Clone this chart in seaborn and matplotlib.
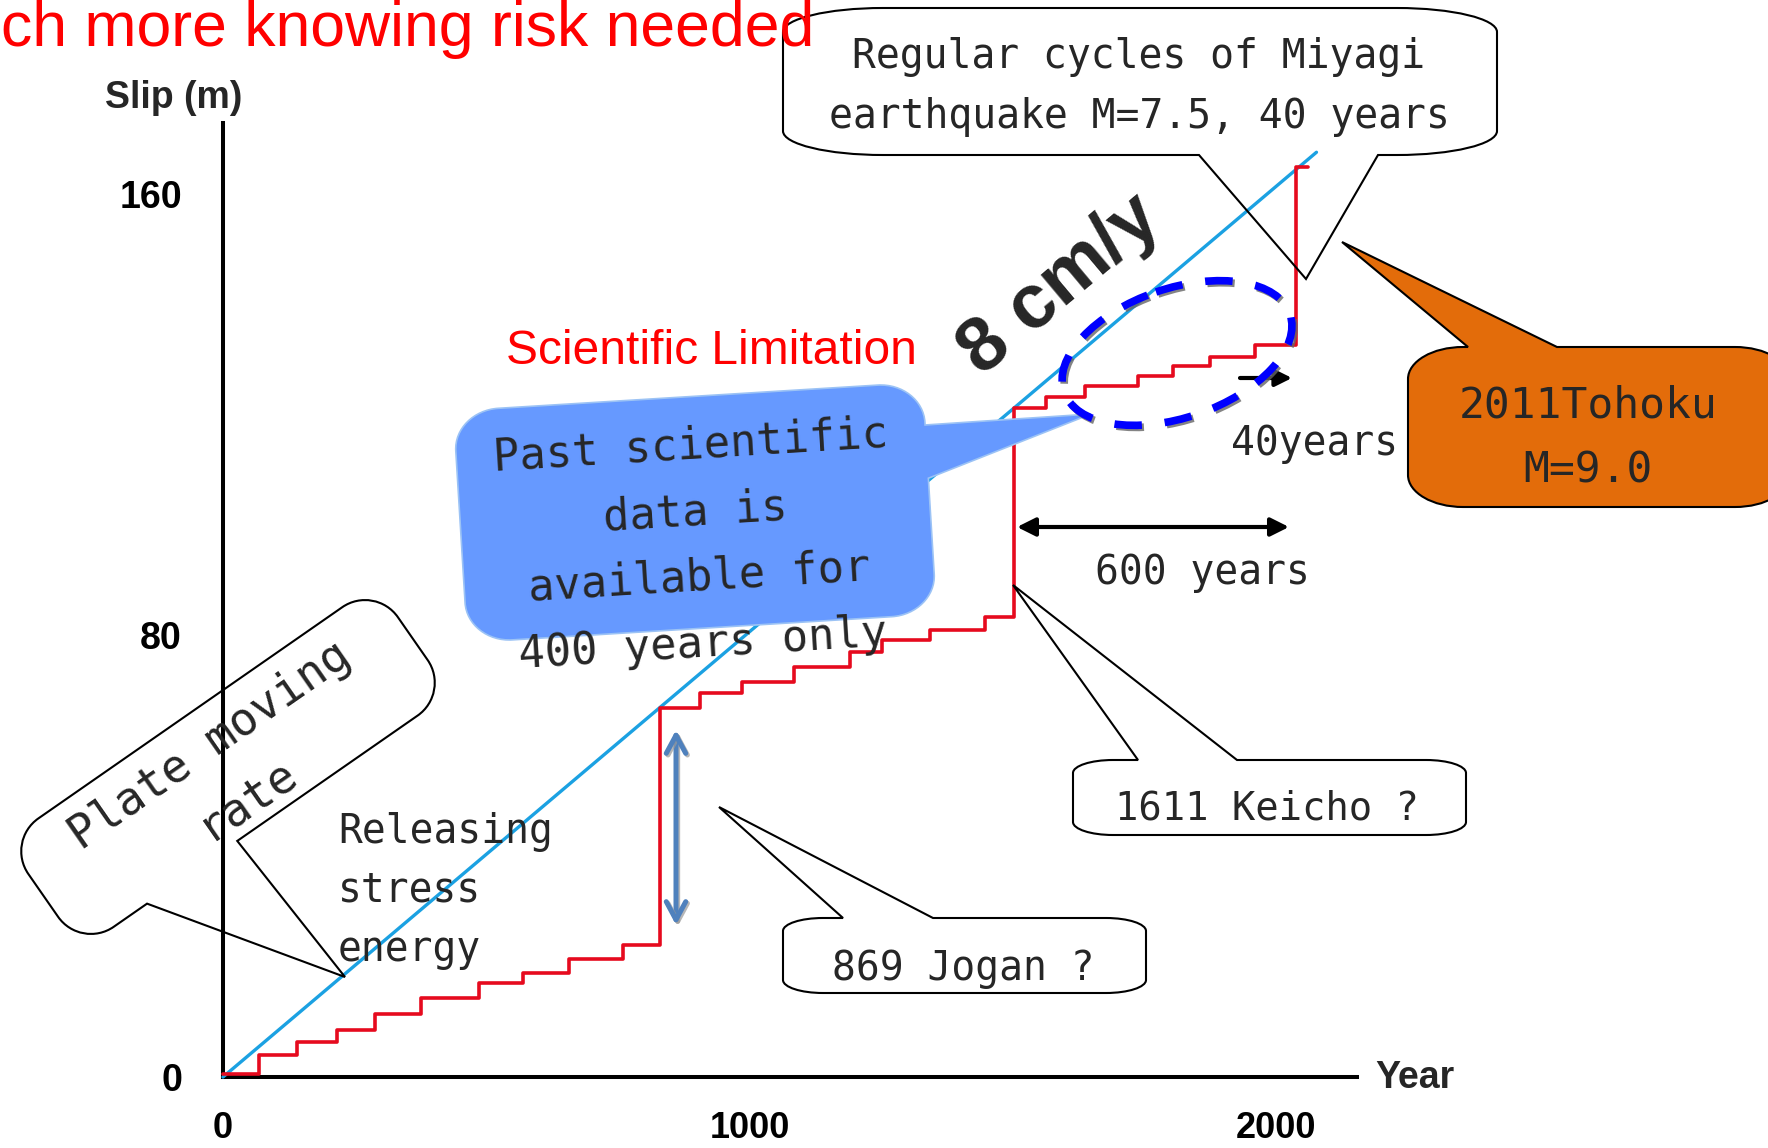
import numpy as np
import pandas as pd
import matplotlib
matplotlib.use("Agg")
import matplotlib.pyplot as plt
import matplotlib.patheffects as pe
from matplotlib.path import Path
from matplotlib.patches import PathPatch, Ellipse, FancyArrowPatch
import seaborn as sns

# ---------------- data ----------------
plate_years = [0, 2077]
plate_slip = [0.0, 167.5]

release_years = [0, 69, 141, 217, 289, 377, 487, 569, 658, 760, 831, 906, 985,
                 1085, 1191, 1251, 1342, 1447, 1502, 1564, 1637, 1738, 1805,
                 1875, 1960, 2039, 2061]
release_slip = [0.6, 4.0, 6.4, 8.5, 11.4, 14.3, 17.1, 18.8, 21.3, 23.9, 66.8,
                69.5, 71.6, 74.2, 76.9, 79.2, 81.0, 83.3, 121.1, 123.2, 125.1,
                126.9, 128.7, 130.5, 132.6, 164.8, 164.8]

x_ticks = [0, 1000, 2000]
x_tick_labels = ["0", "1000", "2000"]
y_ticks = [0, 80, 160]
y_tick_labels = ["0", "80", "160"]
x_label = "Year"
y_label = "Slip (m)"
x_max = 2154
y_max = 172.8

# ---------------- style ----------------
sns.set_style("white")
plt.rcParams["font.family"] = ["DejaVu Sans Mono", "DejaVu Sans"]
SANS = ["Liberation Sans", "DejaVu Sans"]
MONO = ["DejaVu Sans Mono", "DejaVu Sans"]

W, H = 1768, 1148
fig = plt.figure(figsize=(W / 100, H / 100), dpi=100)
fig.patch.set_facecolor("white")

ax = fig.add_axes([223 / W, 71 / H, 1134 / W, 954 / H])
ax.set_facecolor("none")

plate_df = pd.DataFrame({"Year": plate_years, "Slip": plate_slip})
release_df = pd.DataFrame({"Year": release_years, "Slip": release_slip})

sns.lineplot(data=plate_df, x="Year", y="Slip", ax=ax, color="#1BA1E2", lw=2.4,
             estimator=None, sort=False, legend=False, clip_on=False, zorder=3)
sns.lineplot(data=release_df, x="Year", y="Slip", ax=ax, color="#E60A1E", lw=2.6,
             drawstyle="steps-post", estimator=None, sort=False, legend=False,
             clip_on=False, zorder=4)

ax.set_xlim(0, x_max)
ax.set_ylim(0, y_max)
for sp in ["top", "right"]:
    ax.spines[sp].set_visible(False)
for sp in ["left", "bottom"]:
    ax.spines[sp].set_linewidth(2.9)
    ax.spines[sp].set_color("black")
ax.set_xticks(x_ticks, labels=x_tick_labels, fontfamily=SANS, fontweight="bold", fontsize=26)
ax.set_yticks(y_ticks, labels=y_tick_labels, fontfamily=SANS, fontweight="bold", fontsize=27)
ax.tick_params(axis="both", direction="out", length=21.6, width=2.2, color="black",
               labelcolor="black")
ax.tick_params(axis="x", pad=3)
ax.tick_params(axis="y", pad=8)
ax.set_xlabel(x_label, fontsize=27, fontweight="bold", fontfamily=SANS,
              ha="left", va="baseline")
ax.xaxis.set_label_coords((1375 - 223) / 1134, (1077 - 1088) / 954)
ax.set_ylabel(y_label, fontsize=27, fontweight="bold", fontfamily=SANS,
              rotation=0, ha="center", va="baseline")
ax.yaxis.set_label_coords((174 - 223) / 1134, (1077 - 108) / 954)

# ---------------- annotation overlay (pixel coordinates, y down) ----------------
ov = fig.add_axes([0, 0, 1, 1], zorder=5)
ov.set_xlim(0, W)
ov.set_ylim(H, 0)
ov.axis("off")


def callout_path(cx, cy, w, h, rx, ry, ang=0.0, pointer=None):
    t = np.deg2rad(ang)
    c, s = np.cos(t), np.sin(t)

    def to_g(p):
        x, y = p
        return (cx + x * c + y * s, cy - x * s + y * c)

    def to_l(p):
        X, Y = p[0] - cx, p[1] - cy
        return (X * c - Y * s, X * s + Y * c)

    k = 0.5523
    x0, x1, y0, y1 = -w / 2, w / 2, -h / 2, h / 2
    verts, codes = [], []

    def move(p):
        verts.append(p); codes.append(Path.MOVETO)

    def line(p):
        verts.append(p); codes.append(Path.LINETO)

    def curve(p1, p2, p3):
        verts.extend([p1, p2, p3]); codes.extend([Path.CURVE4] * 3)

    def insert(side):
        if not pointer or pointer[0] != side:
            return
        _, b1, b2, tip = pointer
        l1, l2, lt = to_l(b1), to_l(b2), to_l(tip)
        if side == "top":
            a, b = sorted([l1[0], l2[0]]); pts = [(a, y0), lt, (b, y0)]
        elif side == "bottom":
            a, b = sorted([l1[0], l2[0]], reverse=True); pts = [(a, y1), lt, (b, y1)]
        elif side == "right":
            a, b = sorted([l1[1], l2[1]]); pts = [(x1, a), lt, (x1, b)]
        else:
            a, b = sorted([l1[1], l2[1]], reverse=True); pts = [(x0, a), lt, (x0, b)]
        for p in pts:
            line(p)

    move((x0 + rx, y0))
    insert("top")
    line((x1 - rx, y0))
    curve((x1 - rx + k * rx, y0), (x1, y0 + ry - k * ry), (x1, y0 + ry))
    insert("right")
    line((x1, y1 - ry))
    curve((x1, y1 - ry + k * ry), (x1 - rx + k * rx, y1), (x1 - rx, y1))
    insert("bottom")
    line((x0 + rx, y1))
    curve((x0 + rx - k * rx, y1), (x0, y1 - ry + k * ry), (x0, y1 - ry))
    insert("left")
    line((x0, y0 + ry))
    curve((x0, y0 + ry - k * ry), (x0 + rx - k * rx, y0), (x0 + rx, y0))
    verts.append((0, 0)); codes.append(Path.CLOSEPOLY)
    gv = [to_g(p) for p in verts[:-1]] + [(0, 0)]
    return Path(gv, codes)


def add_callout(path, fc="none", ec="black", lw=1.5, z=2):
    ov.add_patch(PathPatch(path, facecolor=fc, edgecolor=ec, lw=lw, zorder=z,
                           joinstyle="miter"))


# Title (at the top-left edge) and red heading
ov.text(1, 46, "ch more knowing risk needed", color="#FF0000", fontsize=45,
        family=SANS, ha="left", va="baseline", zorder=6)
ov.text(506, 364, "Scientific Limitation", color="#FF0000", fontsize=34.5,
        family=SANS, ha="left", va="baseline", zorder=6)

# Miyagi callout
add_callout(callout_path(1140, 81.5, 714, 147, 100, 24,
                         pointer=("bottom", (1199, 155), (1378, 155), (1306, 279))))
ov.text(1139, 87, "Regular cycles of Miyagi\nearthquake M=7.5, 40 years",
        fontsize=28.6, family=MONO, ha="center", va="center",
        multialignment="center", linespacing=1.66, zorder=6)

# 8 cm/y
ov.text(1060, 285, "8 cm/y", fontsize=55, fontweight="bold", family=SANS,
        rotation=40, rotation_mode="anchor", ha="center", va="center", zorder=6)

# Tohoku orange callout
add_callout(callout_path(1599, 427, 382, 160, 55, 32,
                         pointer=("top", (1468, 347), (1557, 347), (1342, 242))),
            fc="#E36C0A", ec="black", lw=1.5)
ov.text(1588, 438, "2011Tohoku\nM=9.0", fontsize=31, family=MONO, ha="center",
        va="center", multialignment="center", linespacing=1.68, zorder=6)

# Blue callout (past scientific data)
add_callout(callout_path(695, 512.5, 470, 232, 45, 40, ang=3.5,
                         pointer=("right", (925, 425), (932, 478), (1091, 414))),
            fc="#6699FF", ec="#9CC3F5", lw=1.2, z=3)
ov.text(697, 545, "Past scientific\ndata is\navailable for\n400 years only",
        fontsize=31.5, family=MONO, ha="center", va="center",
        multialignment="center", linespacing=1.68, rotation=3.5,
        rotation_mode="anchor", zorder=6)

# 40 years small arrow and ellipse
ov.add_patch(FancyArrowPatch((1240, 378), (1292, 378),
                             arrowstyle="-|>,head_length=10,head_width=5",
                             mutation_scale=1, lw=3, color="black",
                             shrinkA=0, shrinkB=0, zorder=4))
ell = Ellipse((1177, 353), width=239, height=129, angle=-19, fill=False,
              edgecolor="#0000FF", lw=5.5, linestyle=(0, (3.6, 3.0)), zorder=5,
              capstyle="butt")
ell.set_path_effects([pe.SimpleLineShadow(offset=(1.5, -1.5), shadow_color="#666666",
                                          alpha=0.8), pe.Normal()])
ov.add_patch(ell)
ov.text(1315, 455, "40years", fontsize=28.5, family=MONO, ha="center",
        va="baseline", zorder=6)

# 600 years arrow
ov.add_patch(FancyArrowPatch((1017, 527), (1289, 527),
                             arrowstyle="<|-|>,head_length=11,head_width=5.5",
                             mutation_scale=1, lw=3, color="black",
                             shrinkA=0, shrinkB=0, zorder=4))
ov.text(1202, 584, "600 years", fontsize=28.5, family=MONO, ha="center",
        va="baseline", zorder=6)

# Keicho callout
add_callout(callout_path(1269.5, 797.5, 393, 75, 40, 13,
                         pointer=("top", (1138, 760), (1237, 760), (1013, 585))))
ov.text(1267, 820, "1611 Keicho ?", fontsize=28, family=MONO, ha="center",
        va="baseline", zorder=6)

# Jogan callout
add_callout(callout_path(964.5, 955.5, 363, 75, 40, 13,
                         pointer=("top", (843, 918), (933, 918), (719, 807))))
ov.text(963, 980, "869 Jogan ?", fontsize=28.5, family=MONO, ha="center",
        va="baseline", zorder=6)

# Jogan double arrow (released stress)
jarrow = FancyArrowPatch((676, 925), (676, 730),
                         arrowstyle="<->,head_length=13,head_width=7",
                         mutation_scale=1, lw=3.6, color="#4F81BD",
                         shrinkA=0, shrinkB=0, zorder=4, capstyle="round")
jarrow.set_path_effects([pe.SimpleLineShadow(offset=(1.2, -1.2), shadow_color="#999999",
                                             alpha=0.7), pe.Normal()])
ov.add_patch(jarrow)

# Plate moving rate callout (rotated)
add_callout(callout_path(228, 767, 450, 132, 40, 40, ang=34.8,
                         pointer=("bottom", (238, 842), (148, 905), (345, 977))))
ov.text(229, 773, "Plate moving\nrate", fontsize=33, family=MONO, ha="center",
        va="center", multialignment="center", linespacing=1.565, rotation=34.8,
        rotation_mode="anchor", zorder=6)

# Releasing stress energy
ov.text(338, 811.6, "Releasing\nstress\nenergy", fontsize=28.5, family=MONO,
        ha="left", va="top", multialignment="left", linespacing=1.62, zorder=6)

fig.savefig("out.png", dpi=100)
